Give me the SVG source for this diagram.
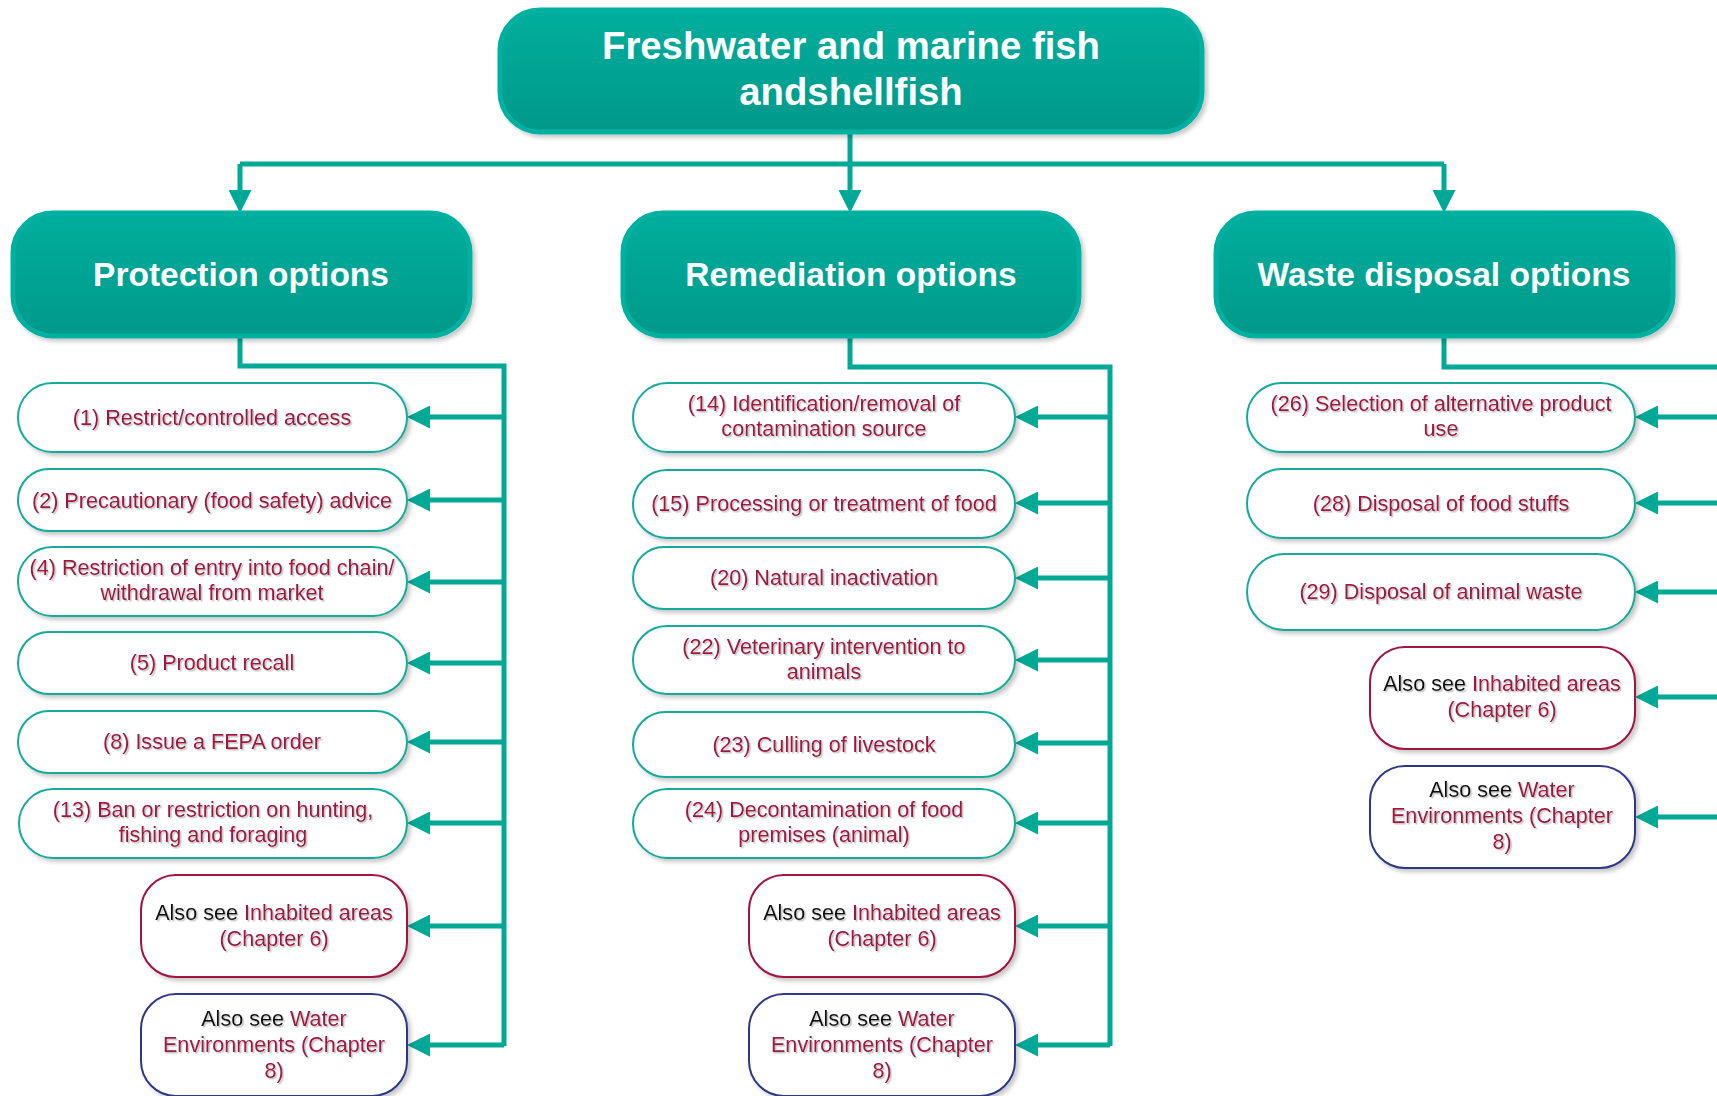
<svg xmlns="http://www.w3.org/2000/svg" width="1717" height="1096" viewBox="0 0 1717 1096">
<defs>
<linearGradient id="hg" x1="0" y1="0" x2="0" y2="1">
<stop offset="0" stop-color="#00AE9D"/>
<stop offset="1" stop-color="#00998A"/>
</linearGradient>
<filter id="bs" x="-5%" y="-10%" width="115%" height="130%">
<feDropShadow dx="3" dy="3" stdDeviation="2" flood-color="#000" flood-opacity="0.22"/>
</filter>
<filter id="ts" x="-5%" y="-20%" width="110%" height="150%">
<feDropShadow dx="1.5" dy="1.5" stdDeviation="0.6" flood-color="#aaa" flood-opacity="0.7"/>
</filter>
<marker id="ah" markerUnits="userSpaceOnUse" viewBox="0 0 23 23" refX="0" refY="11.5" markerWidth="23" markerHeight="23" orient="auto">
<path d="M0,0 L23,11.5 L0,23 z" fill="#00A896"/>
</marker>
<style>
.hd{fill:url(#hg);stroke:#03B1A1;stroke-width:5;filter:url(#bs)}
.ch{fill:#fff;stroke:#14AA9B;stroke-width:2;filter:url(#bs)}
.ai{fill:#fff;stroke:#A0123F;stroke-width:2;filter:url(#bs)}
.aw{fill:#fff;stroke:#2F3886;stroke-width:2;filter:url(#bs)}
.ht{font-family:"Liberation Sans",Arial,sans-serif;font-weight:bold;fill:#fff;text-anchor:middle}
.ct{font-family:"Liberation Sans",Arial,sans-serif;font-size:21.6px;fill:#A0123F;text-anchor:middle;filter:url(#ts)}
.bk{fill:#111}
.cn{fill:none;stroke:#00A896;stroke-width:5}
.ar{fill:none;stroke:#00A896;stroke-width:5;marker-end:url(#ah)}
</style>
</defs>

<g id="connectors">
<path class="ar" d="M850,132 V190"/>
<path class="cn" d="M240,164 H1444"/>
<path class="ar" d="M240,164 V190"/>
<path class="ar" d="M1444,164 V190"/>

<path class="cn" d="M240,336 V366 H504 V1046"/>
<path class="ar" d="M504,417 H430"/>
<path class="ar" d="M504,500 H430"/>
<path class="ar" d="M504,582 H430"/>
<path class="ar" d="M504,663 H430"/>
<path class="ar" d="M504,742 H430"/>
<path class="ar" d="M504,823 H430"/>
<path class="ar" d="M504,926 H430"/>
<path class="ar" d="M504,1045 H430"/>

<path class="cn" d="M850,336 V367 H1110 V1046"/>
<path class="ar" d="M1110,417 H1038"/>
<path class="ar" d="M1110,503 H1038"/>
<path class="ar" d="M1110,578 H1038"/>
<path class="ar" d="M1110,660 H1038"/>
<path class="ar" d="M1110,743 H1038"/>
<path class="ar" d="M1110,823 H1038"/>
<path class="ar" d="M1110,926 H1038"/>
<path class="ar" d="M1110,1045 H1038"/>

<path class="cn" d="M1444,336 V367 H1730"/>
<path class="ar" d="M1730,417 H1658"/>
<path class="ar" d="M1730,503 H1658"/>
<path class="ar" d="M1730,592 H1658"/>
<path class="ar" d="M1730,697 H1658"/>
<path class="ar" d="M1730,817 H1658"/>
</g>

<g id="root">
<rect class="hd" x="500" y="10" width="702" height="122" rx="40"/>
<text class="ht" font-size="38.3" x="851" y="59">Freshwater and marine fish</text>
<text class="ht" font-size="38.3" x="851" y="105">andshellfish</text>
</g>

<g id="protection">
<rect class="hd" x="13" y="213" width="457" height="123" rx="40"/>
<text class="ht" font-size="33.5" x="241" y="286">Protection options</text>
</g>
<g id="remediation">
<rect class="hd" x="623" y="213" width="456" height="123" rx="40"/>
<text class="ht" font-size="33.5" x="851" y="286">Remediation options</text>
</g>
<g id="waste">
<rect class="hd" x="1216" y="213" width="457" height="123" rx="40"/>
<text class="ht" font-size="33.5" x="1444" y="286">Waste disposal options</text>
</g>

<!-- Protection children -->
<g id="p1"><rect class="ch" x="18" y="383" width="389" height="69" rx="34.5"/>
<text class="ct" x="212" y="425">(1) Restrict/controlled access</text></g>
<g id="p2"><rect class="ch" x="18" y="469" width="389" height="62" rx="31"/>
<text class="ct" x="212" y="508">(2) Precautionary (food safety) advice</text></g>
<g id="p4"><rect class="ch" x="18" y="547" width="389" height="69" rx="34.5"/>
<text class="ct" x="212" y="575">(4) Restriction of entry into food chain/</text>
<text class="ct" x="212" y="600">withdrawal from market</text></g>
<g id="p5"><rect class="ch" x="18" y="632" width="389" height="62" rx="31"/>
<text class="ct" x="212" y="670">(5) Product recall</text></g>
<g id="p8"><rect class="ch" x="18" y="711" width="389" height="62" rx="31"/>
<text class="ct" x="212" y="749">(8) Issue a FEPA order</text></g>
<g id="p13"><rect class="ch" x="19" y="789" width="388" height="69" rx="34.5"/>
<text class="ct" x="213" y="817">(13) Ban or restriction on hunting,</text>
<text class="ct" x="213" y="842">fishing and foraging</text></g>
<g id="p-inh"><rect class="ai" x="141" y="875" width="266" height="102" rx="35"/>
<text class="ct" x="274" y="920"><tspan class="bk">Also see </tspan>Inhabited areas</text>
<text class="ct" x="274" y="946">(Chapter 6)</text></g>
<g id="p-wat"><rect class="aw" x="141" y="994" width="266" height="102" rx="35"/>
<text class="ct" x="274" y="1026"><tspan class="bk">Also see </tspan>Water</text>
<text class="ct" x="274" y="1052">Environments (Chapter</text>
<text class="ct" x="274" y="1078">8)</text></g>

<!-- Remediation children -->
<g id="r14"><rect class="ch" x="633" y="383" width="382" height="69" rx="34.5"/>
<text class="ct" x="824" y="411">(14) Identification/removal of</text>
<text class="ct" x="824" y="436">contamination source</text></g>
<g id="r15"><rect class="ch" x="633" y="470" width="382" height="68" rx="34"/>
<text class="ct" x="824" y="511">(15) Processing or treatment of food</text></g>
<g id="r20"><rect class="ch" x="633" y="547" width="382" height="62" rx="31"/>
<text class="ct" x="824" y="585">(20) Natural inactivation</text></g>
<g id="r22"><rect class="ch" x="633" y="626" width="382" height="68" rx="34"/>
<text class="ct" x="824" y="654">(22) Veterinary intervention to</text>
<text class="ct" x="824" y="679">animals</text></g>
<g id="r23"><rect class="ch" x="633" y="712" width="382" height="65" rx="32.5"/>
<text class="ct" x="824" y="752">(23) Culling of livestock</text></g>
<g id="r24"><rect class="ch" x="633" y="789" width="382" height="69" rx="34.5"/>
<text class="ct" x="824" y="817">(24) Decontamination of food</text>
<text class="ct" x="824" y="842">premises (animal)</text></g>
<g id="r-inh"><rect class="ai" x="749" y="875" width="266" height="102" rx="35"/>
<text class="ct" x="882" y="920"><tspan class="bk">Also see </tspan>Inhabited areas</text>
<text class="ct" x="882" y="946">(Chapter 6)</text></g>
<g id="r-wat"><rect class="aw" x="749" y="994" width="266" height="102" rx="35"/>
<text class="ct" x="882" y="1026"><tspan class="bk">Also see </tspan>Water</text>
<text class="ct" x="882" y="1052">Environments (Chapter</text>
<text class="ct" x="882" y="1078">8)</text></g>

<!-- Waste children -->
<g id="w26"><rect class="ch" x="1247" y="383" width="388" height="69" rx="34.5"/>
<text class="ct" x="1441" y="411">(26) Selection of alternative product</text>
<text class="ct" x="1441" y="436">use</text></g>
<g id="w28"><rect class="ch" x="1247" y="469" width="388" height="69" rx="34.5"/>
<text class="ct" x="1441" y="511">(28) Disposal of food stuffs</text></g>
<g id="w29"><rect class="ch" x="1247" y="554" width="388" height="76" rx="38"/>
<text class="ct" x="1441" y="599">(29) Disposal of animal waste</text></g>
<g id="w-inh"><rect class="ai" x="1370" y="647" width="265" height="102" rx="35"/>
<text class="ct" x="1502" y="691"><tspan class="bk">Also see </tspan>Inhabited areas</text>
<text class="ct" x="1502" y="717">(Chapter 6)</text></g>
<g id="w-wat"><rect class="aw" x="1370" y="766" width="265" height="102" rx="35"/>
<text class="ct" x="1502" y="797"><tspan class="bk">Also see </tspan>Water</text>
<text class="ct" x="1502" y="823">Environments (Chapter</text>
<text class="ct" x="1502" y="849">8)</text></g>
</svg>
